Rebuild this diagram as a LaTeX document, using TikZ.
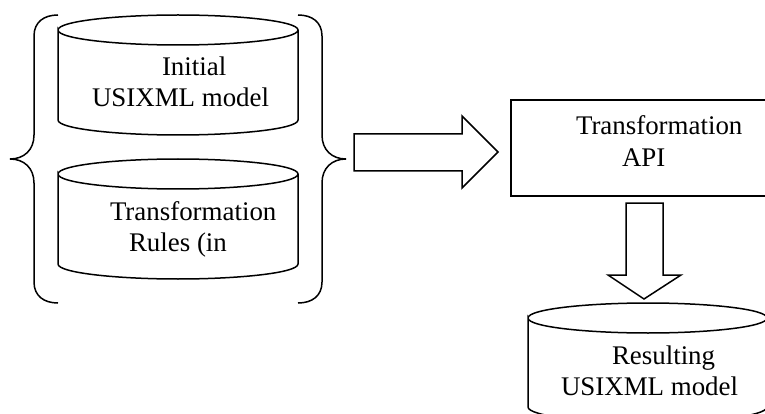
\documentclass[tikz,border=0pt]{standalone}
\usepackage{fontspec}
\setmainfont{Liberation Serif}
\begin{document}
\begin{tikzpicture}[x=1pt,y=-1pt,
  ln/.style={draw=black,line width=1.5pt,line join=miter},
  lbl/.style={anchor=base west,inner sep=0pt,outer sep=0pt,font=\fontsize{26.9}{30}\selectfont,text=black}]
\useasboundingbox (0,0) rectangle (765,414);
\clip (0,0) rectangle (765,414);
\fill[white] (0,0) rectangle (765,414);
% cylinders
\draw[ln] (58,30) .. controls (58,21) and (118,15) .. (178,15) .. controls (238,15) and (298,21) .. (298,30) .. controls (298,39) and (238,45) .. (178,45) .. controls (118,45) and (58,39) .. (58,30) -- (58,120) .. controls (58,129) and (118,135) .. (178,135) .. controls (238,135) and (298,129) .. (298,120) -- (298,30);
\draw[ln] (58,174) .. controls (58,165) and (118,159) .. (178,159) .. controls (238,159) and (298,165) .. (298,174) .. controls (298,183) and (238,189) .. (178,189) .. controls (118,189) and (58,183) .. (58,174) -- (58,264) .. controls (58,273) and (118,279) .. (178,279) .. controls (238,279) and (298,273) .. (298,264) -- (298,174);
\draw[ln] (528,318) .. controls (528,309) and (588,303) .. (648,303) .. controls (708,303) and (767,309) .. (767,318) .. controls (767,327) and (708,333) .. (648,333) .. controls (588,333) and (528,327) .. (528,318) -- (528,407) .. controls (528,416) and (588,423) .. (648,423) .. controls (708,423) and (767,416) .. (767,407);
% braces
\draw[ln] (58,15) .. controls (44,15) and (34,22) .. (34,36) -- (34,135) .. controls (34,150) and (24,159) .. (10,159) .. controls (24,159) and (34,168) .. (34,183) -- (34,282) .. controls (34,296) and (44,303) .. (58,303);
\draw[ln] (298,15) .. controls (312,15) and (322,22) .. (322,36) -- (322,135) .. controls (322,150) and (332,159) .. (346,159) .. controls (332,159) and (322,168) .. (322,183) -- (322,282) .. controls (322,296) and (312,303) .. (298,303);
% block arrows
\draw[ln] (354,134) -- (462,134) -- (462,116) -- (498,152) -- (462,188) -- (462,171) -- (354,171) -- cycle;
\draw[ln] (626,203) -- (663,203) -- (663,275) -- (681,275) -- (644,299) -- (608,275) -- (626,275) -- cycle;
% box, running off the right edge
\draw[ln] (770,100) -- (511,100) -- (511,196) -- (770,196);
% labels
\node[lbl] (a1) at (162,76) {Initial};
\node[lbl] (a2) at (92,107) {USIXML model};
\node[lbl] (b1) at (110,220) {Transformation};
\node[lbl] (b2) at (129,251) {Rules (in};
\node[lbl] (c1) at (576,135) {Transformation};
\node[lbl] (c2) at (622,167) {API};
\node[lbl] (d1) at (612,364) {Resulting};
\node[lbl] (d2) at (561,395) {USIXML model};
\end{tikzpicture}
\end{document}
